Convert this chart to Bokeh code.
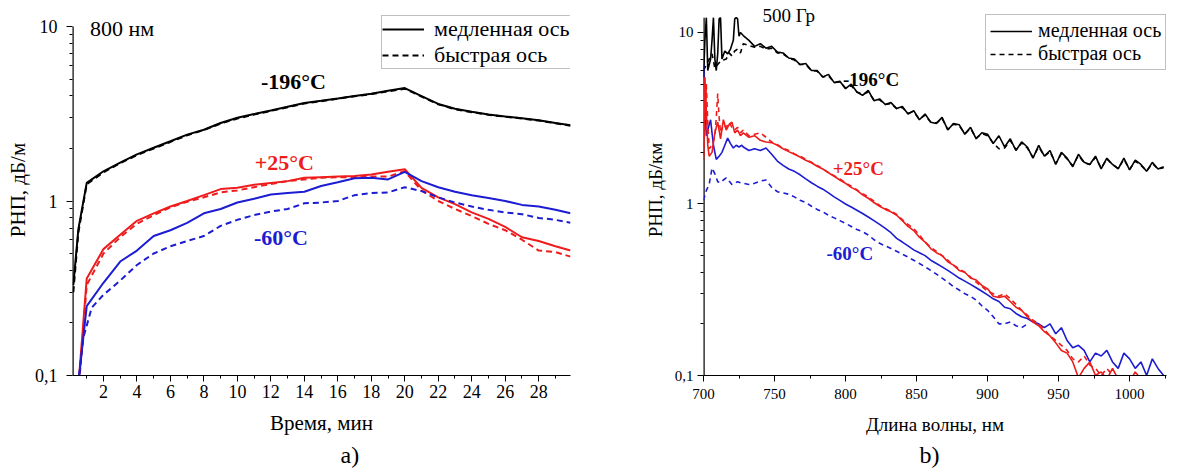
from bokeh.plotting import figure
from bokeh.models import Range1d, FixedTicker, Legend, LegendItem, Label, Title
from bokeh.layouts import row
from bokeh.embed import file_html
from bokeh.resources import INLINE

FONT = "Liberation Serif"
BLACK = "#000000"
RED = "#ee1c1c"
BLUE = "#1c1cd2"

# ---------------- panel a) : time dependence at 800 nm ----------------
t_black = [0.2, 0.5, 1, 2, 3, 4, 5, 6, 7, 8, 9, 10, 11, 12, 13, 14, 15, 16, 17, 18, 19, 20,
           21, 22, 23, 24, 25, 26, 27, 28, 29, 29.9]
black_slow_t = [0.33, 0.69, 1.27, 1.48, 1.66, 1.85, 2.02, 2.2, 2.4, 2.56, 2.8, 3.0, 3.15, 3.3, 3.47,
                3.64, 3.75, 3.87, 4.0, 4.12, 4.28, 4.44, 3.99, 3.6, 3.38, 3.25, 3.13, 3.05, 2.98,
                2.9, 2.8, 2.72]
black_fast_t = [0.3, 0.66, 1.25, 1.46, 1.65, 1.83, 2.0, 2.18, 2.38, 2.55, 2.78, 2.97, 3.13, 3.28,
                3.45, 3.62, 3.73, 3.86, 3.98, 4.1, 4.25, 4.4, 3.97, 3.58, 3.36, 3.23, 3.12, 3.04,
                2.97, 2.89, 2.79, 2.7]

t_color = [0.55, 1, 2, 3, 4, 5, 6, 7, 8, 9, 10, 11, 12, 13, 14, 15, 16, 17, 18, 19, 20,
           21, 22, 23, 24, 25, 26, 27, 28, 29, 29.9]
red_slow_t = [0.1, 0.36, 0.53, 0.64, 0.77, 0.85, 0.93, 1.0, 1.08, 1.17, 1.19, 1.24, 1.27, 1.3, 1.36,
              1.37, 1.38, 1.39, 1.42, 1.47, 1.52, 1.19, 1.05, 0.96, 0.86, 0.79, 0.71, 0.62, 0.59,
              0.55, 0.52]
red_fast_t = [0.09, 0.33, 0.5, 0.62, 0.74, 0.83, 0.92, 0.99, 1.05, 1.12, 1.15, 1.2, 1.25, 1.3, 1.33,
              1.36, 1.37, 1.37, 1.38, 1.38, 1.48, 1.15, 1.0, 0.9, 0.82, 0.74, 0.68, 0.6, 0.52,
              0.51, 0.48]
blue_slow_t = [0.1, 0.25, 0.34, 0.45, 0.52, 0.63, 0.68, 0.75, 0.85, 0.9, 0.98, 1.03, 1.09, 1.11,
               1.13, 1.22, 1.28, 1.35, 1.36, 1.33, 1.47, 1.3, 1.2, 1.13, 1.08, 1.04, 1.0, 0.95,
               0.93, 0.89, 0.85]
t_blue_fast = [0.55, 0.8, 1.3, 2, 3, 4, 5, 6, 7, 8, 9, 10, 11, 12, 13, 14, 15, 16, 17, 18, 19, 20,
               21, 22, 23, 24, 25, 26, 27, 28, 29, 29.9]
blue_fast_t = [0.1, 0.165, 0.245, 0.29, 0.35, 0.43, 0.5, 0.55, 0.59, 0.63, 0.72, 0.78, 0.83, 0.87,
               0.9, 0.97, 0.98, 1.0, 1.08, 1.11, 1.12, 1.2, 1.14, 1.05, 0.98, 0.93, 0.89, 0.86,
               0.84, 0.8, 0.78, 0.75]

a_xticks = [2, 4, 6, 8, 10, 12, 14, 16, 18, 20, 22, 24, 26, 28]
a_xminor = [1, 3, 5, 7, 9, 11, 13, 15, 17, 19, 21, 23, 25, 27, 29]
a_x_range = (0.15, 29.9)
a_axis_top = 10.0

# ---------------- panel b) : spectra at 500 Gy ----------------
wl_grid = [728, 732, 736, 740, 744, 748, 752, 756, 760, 764, 768, 772, 776, 780, 784, 788, 792,
           796, 800, 804, 808, 812, 816, 820, 824, 828, 832, 836, 840, 844, 848, 852, 856, 860,
           864, 868, 872, 876, 880, 884, 888, 892, 896, 900, 904, 908, 912, 916, 920, 924, 928,
           932, 936, 940, 944, 948, 952, 956, 960, 964, 968, 972, 976, 980, 984, 988, 992, 996,
           1000, 1004, 1008, 1012, 1016, 1020, 1024]

wl_black_slow_start = [700, 701, 702, 703, 705, 706, 707, 708, 709, 710, 711, 712, 713, 715, 717,
                       719, 721, 722, 723, 724, 725, 726]
black_slow_start = [5.5, 9.0, 12.2, 6.0, 7.0, 9.0, 12.2, 7.0, 6.0, 7.5, 12.0, 12.2, 7.0, 7.8, 7.5,
                    8.0, 9.0, 12.0, 12.2, 12.0, 9.5, 10.0]
black_slow_main = [9.6, 9.0, 8.3, 8.6, 8.1, 8.3, 7.7, 7.6, 7.1, 7.0, 6.5, 6.6, 6.0, 6.0, 5.5, 5.7,
                   5.1, 5.2, 4.7, 5.0, 4.5, 4.3, 4.6, 4.0, 4.1, 3.8, 3.9, 3.6, 3.7, 3.35, 3.5, 3.1,
                   3.35, 3.0, 2.95, 3.2, 2.7, 2.95, 2.9, 2.55, 2.8, 2.4, 2.6, 2.55, 2.25, 2.5, 2.15,
                   2.4, 2.05, 2.3, 2.15, 1.85, 2.2, 1.9, 2.05, 1.7, 2.0, 1.85, 1.65, 1.95, 1.75,
                   1.7, 1.9, 1.6, 1.85, 1.7, 1.6, 1.85, 1.58, 1.8, 1.7, 1.55, 1.75, 1.6, 1.65]

wl_black_fast_start = [700, 702, 704, 706, 708, 710, 712, 714, 716, 718, 720, 722, 724, 726]
black_fast_start = [6.0, 6.5, 7.0, 7.5, 6.2, 6.5, 6.8, 6.9, 7.0, 7.6, 7.3, 7.8, 8.0, 7.6]
black_fast_main = [8.6, 8.4, 8.2, 8.3, 8.0, 8.1, 7.6, 7.5, 7.1, 6.9, 6.5, 6.5, 6.0, 5.95, 5.5, 5.6,
                   5.1, 5.15, 4.75, 4.9, 4.5, 4.35, 4.5, 4.05, 4.05, 3.8, 3.85, 3.6, 3.65, 3.38,
                   3.45, 3.12, 3.3, 3.0, 2.97, 3.15, 2.72, 2.92, 2.86, 2.57, 2.76, 2.42, 2.57, 2.5,
                   2.27, 2.1, 2.12, 2.35, 2.07, 2.27, 2.12, 1.87, 2.15, 1.9, 2.02, 1.72, 1.97, 1.83,
                   1.67, 1.92, 1.74, 1.7, 1.87, 1.62, 1.83, 1.7, 1.61, 1.82, 1.59, 1.78, 1.68,
                   1.56, 1.72, 1.6, 1.63]

wl_red_slow_start = [700, 701, 702, 703, 704, 706, 708, 710, 712, 714, 716, 718, 720, 722, 724, 726]
red_slow_start = [1.8, 5.5, 3.5, 2.2, 1.9, 2.0, 2.6, 3.0, 2.4, 3.1, 2.7, 2.9, 3.0, 2.6, 2.7, 2.5]
red_slow_main = [2.6, 2.45, 2.5, 2.35, 2.3, 2.28, 2.2, 2.1, 2.02, 1.95, 1.88, 1.8, 1.74, 1.66, 1.6,
                 1.52, 1.45, 1.38, 1.32, 1.25, 1.2, 1.13, 1.08, 1.02, 0.97, 0.93, 0.9, 0.86, 0.8,
                 0.74, 0.7, 0.64, 0.6, 0.55, 0.52, 0.5, 0.46, 0.44, 0.41, 0.4, 0.37, 0.36, 0.335,
                 0.32, 0.29, 0.285, 0.29, 0.27, 0.25, 0.24, 0.22, 0.205, 0.195, 0.18, 0.17, 0.155,
                 0.14, 0.135, 0.12, 0.097, 0.11, 0.12, 0.1, 0.105, 0.095, 0.11, 0.095, 0.1, 0.092,
                 0.105, 0.095, 0.09]

wl_red_fast_start = [700, 701, 702, 703, 704, 706, 708, 709, 710, 711, 712, 714, 716, 718, 720, 722,
                     724, 726]
red_fast_start = [1.9, 3.0, 5.0, 3.0, 2.1, 2.2, 2.5, 3.2, 4.4, 3.2, 2.6, 2.9, 2.8, 3.0, 2.8, 2.7,
                  2.8, 2.6]
red_fast_main = [2.7, 2.5, 2.55, 2.6, 2.45, 2.3, 2.22, 2.12, 2.05, 1.96, 1.9, 1.82, 1.75, 1.68, 1.6,
                 1.53, 1.46, 1.4, 1.33, 1.27, 1.21, 1.15, 1.1, 1.04, 0.98, 0.94, 0.91, 0.87, 0.81,
                 0.76, 0.72, 0.66, 0.6, 0.56, 0.53, 0.5, 0.47, 0.44, 0.42, 0.4, 0.375, 0.35, 0.33,
                 0.31, 0.3, 0.29, 0.3, 0.28, 0.26, 0.24, 0.225, 0.21, 0.2, 0.185, 0.17, 0.16, 0.15,
                 0.14, 0.125, 0.12, 0.13, 0.115, 0.11, 0.1, 0.11, 0.1, 0.095]

wl_blue_slow_start = [700, 701, 702, 703, 704, 705, 706, 707, 709, 711, 713, 715, 717, 719, 721,
                      723, 725, 727]
blue_slow_start = [6.5, 3.5, 2.5, 2.7, 2.9, 3.1, 2.6, 2.2, 1.82, 1.9, 2.0, 2.2, 2.42, 2.25, 2.12,
                   2.2, 2.15, 2.2]
blue_slow_main = [2.15, 2.05, 2.1, 2.05, 2.12, 1.95, 1.78, 1.68, 1.6, 1.55, 1.48, 1.4, 1.33, 1.27,
                  1.22, 1.16, 1.1, 1.05, 1.0, 0.96, 0.92, 0.88, 0.84, 0.8, 0.76, 0.72, 0.68, 0.63,
                  0.6, 0.57, 0.54, 0.52, 0.5, 0.47, 0.45, 0.43, 0.41, 0.39, 0.37, 0.355, 0.34,
                  0.325, 0.31, 0.295, 0.28, 0.27, 0.25, 0.245, 0.23, 0.22, 0.215, 0.205, 0.2, 0.19,
                  0.2, 0.175, 0.19, 0.16, 0.145, 0.15, 0.14, 0.12, 0.135, 0.13, 0.14, 0.12, 0.11,
                  0.135, 0.125, 0.11, 0.12, 0.1, 0.125, 0.11, 0.1]

wl_blue_fast_start = [700, 702, 704, 706, 708, 710, 712, 714, 716, 718, 720, 722, 724, 726]
blue_fast_start = [1.05, 1.2, 1.3, 1.62, 1.5, 1.35, 1.33, 1.38, 1.42, 1.36, 1.3, 1.32, 1.35, 1.33]
blue_fast_main = [1.32, 1.3, 1.32, 1.36, 1.38, 1.25, 1.18, 1.16, 1.14, 1.1, 1.05, 1.02, 0.97, 0.93,
                  0.9, 0.86, 0.83, 0.8, 0.77, 0.74, 0.71, 0.69, 0.66, 0.62, 0.59, 0.57, 0.55, 0.53,
                  0.51, 0.49, 0.47, 0.45, 0.43, 0.41, 0.39, 0.37, 0.35, 0.33, 0.315, 0.3, 0.29,
                  0.275, 0.255, 0.24, 0.22, 0.2, 0.2, 0.205, 0.195, 0.19, 0.2]

b_xticks = [700, 750, 800, 850, 900, 950, 1000]
b_xminor = [725, 775, 825, 875, 925, 975, 1025]
b_x_range = (700, 1026)
b_axis_top = 12.2

y_major = [0.1, 1, 10]
y_minor = [0.2, 0.3, 0.4, 0.5, 0.6, 0.7, 0.8, 0.9, 2, 3, 4, 5, 6, 7, 8, 9]
y_labels = {0.1: "0,1", 1: "1", 10: "10"}


def series(start_x, start_y, main_y):
    xs = list(start_x) + wl_grid[:len(main_y)]
    ys = list(start_y) + list(main_y)
    n = min(len(xs), len(ys))
    return xs[:n], ys[:n]


def style(p, tick_px, title_px, xt, xm, xlab, ylab, title_standoff_x, title_standoff_y):
    p.outline_line_color = None
    p.xgrid.visible = False
    p.ygrid.visible = False
    p.background_fill_color = "white"
    p.border_fill_color = "white"
    p.xaxis.ticker = FixedTicker(ticks=xt, minor_ticks=xm)
    p.yaxis.ticker = FixedTicker(ticks=y_major, minor_ticks=y_minor)
    p.yaxis.major_label_overrides = y_labels
    p.xaxis.axis_label = xlab
    p.yaxis.axis_label = ylab
    for ax in (p.xaxis[0], p.yaxis[0]):
        ax.axis_line_color = BLACK
        ax.axis_line_width = 1.2
        ax.major_tick_line_color = BLACK
        ax.minor_tick_line_color = BLACK
        ax.major_tick_in = 0
        ax.major_tick_out = 6
        ax.minor_tick_in = 0
        ax.minor_tick_out = 3
        ax.major_label_text_font = FONT
        ax.major_label_text_font_size = tick_px
        ax.major_label_text_color = BLACK
        ax.axis_label_text_font = FONT
        ax.axis_label_text_font_style = "normal"
        ax.axis_label_text_font_size = title_px
        ax.axis_label_text_color = BLACK
    # the y spine is drawn as a segment so that it stops at the top tick
    p.yaxis.axis_line_color = None
    p.xaxis.major_label_standoff = 3
    p.yaxis.major_label_standoff = 9
    p.xaxis.axis_label_standoff = title_standoff_x
    p.yaxis.axis_label_standoff = title_standoff_y


# ---------------- figure a ----------------
pa = figure(width=638, height=475, x_range=Range1d(*a_x_range), y_range=Range1d(0.1, 13.37),
            y_axis_type="log", output_backend="svg", toolbar_location=None,
            min_border_left=72, min_border_right=68, min_border_top=4, min_border_bottom=100)
style(pa, "18px", "21px", a_xticks, a_xminor, "Время, мин", "РНП, дБ/м", 10, 2)
pa.segment(x0=[a_x_range[0]], y0=[0.1], x1=[a_x_range[0]], y1=[a_axis_top],
           line_color=BLACK, line_width=2.4)

lw_a = 2.0
ra_bs = pa.line(t_black, black_slow_t, line_color=BLACK, line_width=lw_a)
ra_bf = pa.line(t_black, black_fast_t, line_color=BLACK, line_width=lw_a, line_dash="6 4")
pa.line(t_color, red_slow_t, line_color=RED, line_width=lw_a)
pa.line(t_color, red_fast_t, line_color=RED, line_width=lw_a, line_dash="6 4")
pa.line(t_color, blue_slow_t, line_color=BLUE, line_width=lw_a)
pa.line(t_blue_fast, blue_fast_t, line_color=BLUE, line_width=lw_a, line_dash="6 4")

leg_a = Legend(items=[LegendItem(label="медленная ось", renderers=[ra_bs]),
                      LegendItem(label="быстрая ось", renderers=[ra_bf])],
               location=(309, 306), orientation="vertical", margin=0, padding=0, spacing=-6,
               glyph_width=42, glyph_height=22, label_height=22, label_standoff=10,
               label_width=138,
               label_text_font=FONT, label_text_font_size="22px", label_text_color=BLACK,
               border_line_color="#7f7f7f", border_line_width=1, background_fill_color="white",
               background_fill_alpha=1.0)
pa.add_layout(leg_a)

pa.add_layout(Label(x=1.2, y=9.8, text="800 нм", text_font=FONT, text_font_size="22px",
                    text_color=BLACK, text_baseline="middle", text_align="left"))
pa.add_layout(Label(x=13.35, y=4.81, text="-196°C", text_font=FONT, text_font_size="22px",
                    text_font_style="bold", text_color=BLACK, text_baseline="middle",
                    text_align="center"))
pa.add_layout(Label(x=12.8, y=1.66, text="+25°C", text_font=FONT, text_font_size="22px",
                    text_font_style="bold", text_color=RED, text_baseline="middle",
                    text_align="center"))
pa.add_layout(Label(x=12.6, y=0.614, text="-60°C", text_font=FONT, text_font_size="22px",
                    text_font_style="bold", text_color=BLUE, text_baseline="middle",
                    text_align="center"))
pa.add_layout(Title(text="a)", align="left", offset=268, standoff=5, text_font=FONT,
                    text_font_size="24px", text_font_style="normal", text_color=BLACK), "below")

# ---------------- figure b ----------------
pb = figure(width=538, height=475, x_range=Range1d(*b_x_range), y_range=Range1d(0.1, 14.56),
            y_axis_type="log", output_backend="svg", toolbar_location=None,
            min_border_left=65, min_border_right=10, min_border_top=4, min_border_bottom=100)
style(pb, "15px", "19px", b_xticks, b_xminor, "Длина волны, нм", "РНП, дБ/км", 12, 6)
pb.yaxis.major_label_standoff = 4
pb.xaxis.major_label_standoff = 7
pb.segment(x0=[b_x_range[0]], y0=[0.1], x1=[b_x_range[0]], y1=[b_axis_top],
           line_color=BLACK, line_width=2.4)

lw_b = 1.6
x, y = series(wl_black_slow_start, black_slow_start, black_slow_main)
rb_bs = pb.line(x, y, line_color=BLACK, line_width=lw_b)
x, y = series(wl_black_fast_start, black_fast_start, black_fast_main)
rb_bf = pb.line(x, y, line_color=BLACK, line_width=lw_b, line_dash="5 4")
x, y = series(wl_blue_fast_start, blue_fast_start, blue_fast_main)
pb.line(x, y, line_color=BLUE, line_width=lw_b, line_dash="5 4")
x, y = series(wl_blue_slow_start, blue_slow_start, blue_slow_main)
pb.line(x, y, line_color=BLUE, line_width=lw_b)
x, y = series(wl_red_fast_start, red_fast_start, red_fast_main)
pb.line(x, y, line_color=RED, line_width=lw_b, line_dash="5 4")
x, y = series(wl_red_slow_start, red_slow_start, red_slow_main)
pb.line(x, y, line_color=RED, line_width=lw_b)

leg_b = Legend(items=[LegendItem(label="медленная ось", renderers=[rb_bs]),
                      LegendItem(label="быстрая ось", renderers=[rb_bf])],
               location=(282, 305), orientation="vertical", margin=0, padding=4, spacing=-2,
               glyph_width=42, glyph_height=22, label_height=22, label_standoff=6,
               label_text_font=FONT, label_text_font_size="20px", label_text_color=BLACK,
               border_line_color="#7f7f7f", border_line_width=1, background_fill_color="white",
               background_fill_alpha=1.0)
pb.add_layout(leg_b)

pb.add_layout(Label(x=59, y=360, x_units="screen", y_units="screen", text="500 Гр",
                    text_font=FONT, text_font_size="19px", text_color=BLACK,
                    text_baseline="middle", text_align="left"))
pb.add_layout(Label(x=818, y=5.3, text="-196°C", text_font=FONT, text_font_size="19px",
                    text_font_style="bold", text_color=BLACK, text_baseline="middle",
                    text_align="center"))
pb.add_layout(Label(x=809, y=1.6, text="+25°C", text_font=FONT, text_font_size="19px",
                    text_font_style="bold", text_color=RED, text_baseline="middle",
                    text_align="center"))
pb.add_layout(Label(x=803, y=0.513, text="-60°C", text_font=FONT, text_font_size="19px",
                    text_font_style="bold", text_color=BLUE, text_baseline="middle",
                    text_align="center"))
pb.add_layout(Title(text="b)", align="left", offset=216, standoff=5, text_font=FONT,
                    text_font_size="24px", text_font_style="normal", text_color=BLACK), "below")

layout = row(pa, pb)
open("out.html", "w").write(file_html(layout, INLINE))
